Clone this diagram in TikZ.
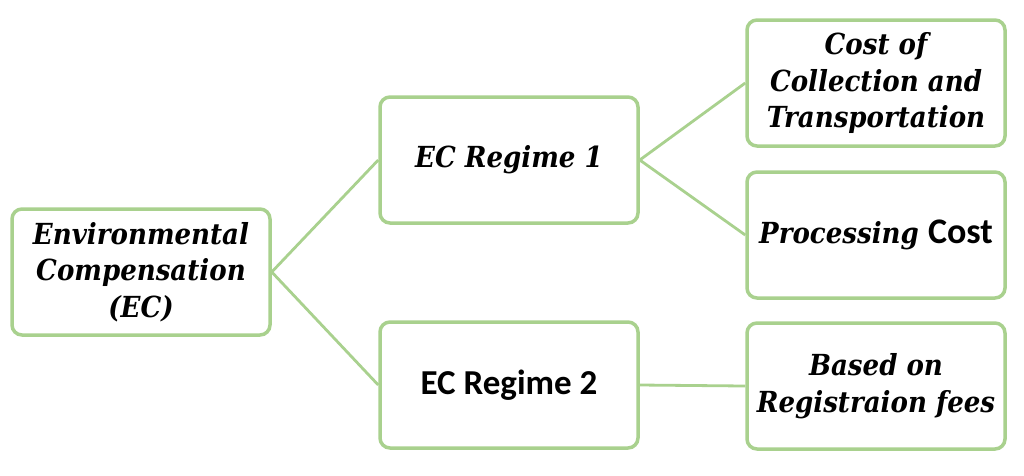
\documentclass[tikz,border=0pt]{standalone}
\usepackage{fontspec}
\setmainfont{Carlito}
\newfontfamily\slabit{DejaVu Serif Condensed}[UprightFont=*, BoldFont=* Bold, ItalicFont=* Italic, BoldItalicFont=* Bold Italic]
\definecolor{boxgreen}{HTML}{A9D18E}
\begin{document}
\begin{tikzpicture}[x=1pt,y=-1pt,
  box/.style={draw=boxgreen, line width=3.5pt, rounded corners=10pt, fill=white,
    minimum width=258pt, minimum height=126pt, align=center, inner sep=0pt,
    font=\fontsize{29}{36.5}\selectfont\slabit\bfseries\itshape},
  link/.style={draw=boxgreen, line width=2.8pt}]
\useasboundingbox (0,0) rectangle (1024,475);
\node[box] (env) at (141,272) {Environmental\\Compensation\\(EC)};
\node[box] (r1) at (509,160) {EC Regime 1};
\node[box] (r2) at (509,385) {\normalfont\bfseries\fontsize{35}{40}\selectfont EC Regime 2};
\node[box] (cost) at (876,83) {Cost of\\Collection and\\Transportation};
\node[box] (proc) at (876,235) {Processing {\normalfont\bfseries\fontsize{36}{40}\selectfont Cost}};
\node[box] (fees) at (876,386) {Based on\\Registraion fees};
\draw[link] (env.east) -- (r1.west);
\draw[link] (env.east) -- (r2.west);
\draw[link] (r1.east) -- (cost.west);
\draw[link] (r1.east) -- (proc.west);
\draw[link] (r2.east) -- (fees.west);
\end{tikzpicture}
\end{document}
